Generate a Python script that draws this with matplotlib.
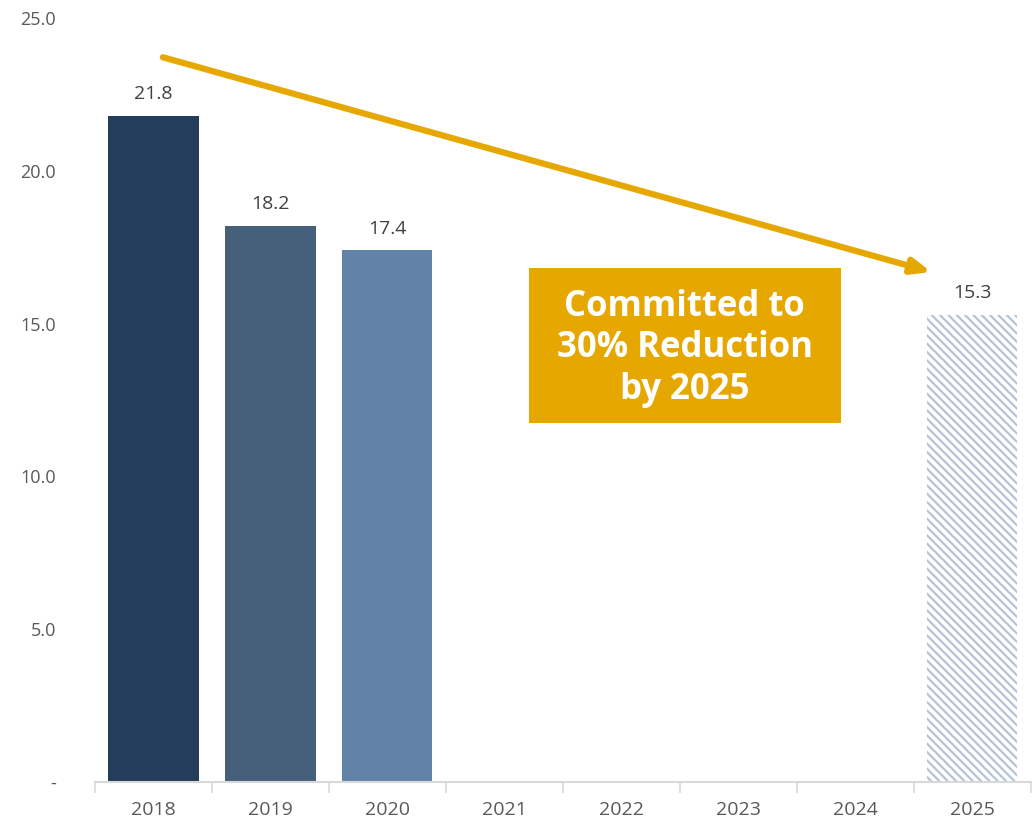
import numpy as np
import matplotlib.pyplot as plt
from matplotlib.ticker import FixedLocator
from matplotlib.patches import Rectangle

plt.rcParams['font.family'] = ['Open Sans', 'DejaVu Sans']
plt.rcParams['hatch.linewidth'] = 1.6

# Dados
years = ['2018', '2019', '2020', '2021', '2022', '2023', '2024', '2025']
values = [21.8, 18.2, 17.4, np.nan, np.nan, np.nan, np.nan, 15.3]
bar_colors = ['#243D5A', '#46607C', '#6283A8', 'none', 'none', 'none', 'none', 'white']
target_label = 'Committed to\n30% Reduction\nby 2025'
yticks = [0, 5, 10, 15, 20, 25]
ytick_labels = ['-', '5.0', '10.0', '15.0', '20.0', '25.0']

fig = plt.figure(figsize=(10.36, 8.25), dpi=100)
ax = fig.add_axes([0.0917, 0.0521, 0.9033, 0.9259])

x = np.arange(len(years))
for i, v in enumerate(values):
    if np.isnan(v):
        continue
    if years[i] == '2025':
        ax.bar(x[i], v, width=0.77, color='white', edgecolor='#B4C3D6',
               hatch='\\\\\\\\', linewidth=0)
    else:
        ax.bar(x[i], v, width=0.77, color=bar_colors[i], linewidth=0)
    ax.annotate(f'{v:.1f}', (x[i], v), xytext=(0, 9), textcoords='offset points',
                ha='center', va='bottom', fontsize=14, color='#404040')

ax.set_xlim(-0.5, len(years) - 0.5)
ax.set_ylim(0, 25)

# eixo x: ticks nas fronteiras, rótulos no centro
ax.xaxis.set_major_locator(FixedLocator(np.arange(-0.5, len(years))))
ax.xaxis.set_minor_locator(FixedLocator(x))
ax.set_xticklabels([], minor=False)
ax.set_xticklabels(years, minor=True)
ax.tick_params(axis='x', which='major', length=8, width=1.2, color='#D9D9D9')
ax.tick_params(axis='x', which='minor', length=0, pad=14, labelsize=14, labelcolor='#595959')

ax.set_yticks(yticks)
ax.set_yticklabels(ytick_labels)
ax.tick_params(axis='y', length=0, pad=28, labelsize=13, labelcolor='#595959')

for s in ['top', 'right', 'left']:
    ax.spines[s].set_visible(False)
ax.spines['bottom'].set_color('#D9D9D9')
ax.spines['bottom'].set_linewidth(1.5)

# seta de tendência
ax.annotate('', xy=(6.65, 16.69), xytext=(0.08, 23.72),
            arrowprops=dict(arrowstyle='-|>,head_length=1.1,head_width=0.45',
                            color='#E6A800', lw=4.5, shrinkA=0, shrinkB=0))

# caixa de texto
ax.add_patch(Rectangle((3.21, 11.75), 5.876 - 3.21, 16.82 - 11.75,
                       facecolor='#E6A800', edgecolor='none', zorder=3))
ax.text(4.54, 14.2, target_label, ha='center', va='center', fontsize=25,
        fontweight='bold', color='white', linespacing=1.2, zorder=4)

fig.savefig('out.png', dpi=100)
